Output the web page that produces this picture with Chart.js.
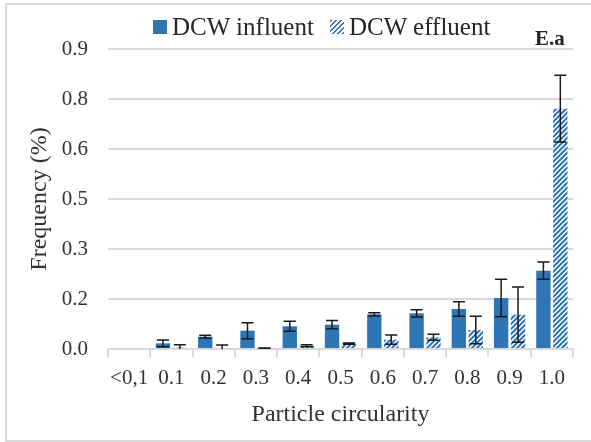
<!DOCTYPE html>
<html>
<head>
<meta charset="utf-8">
<title>Particle circularity - DCW</title>
<script src="https://cdn.jsdelivr.net/npm/chart.js@4/dist/chart.umd.min.js"></script>
<style>
    body { margin: 0; background: #fff; }
    #wrap { position: relative; width: 591px; height: 442px; overflow: hidden; background: #fff; }
    #frame { position: absolute; left: 5px; top: 3px; width: 620px; height: 439px; box-sizing: border-box; border: 2px solid #d9d9d9; }
    #chart { position: absolute; left: 0; top: 0; }
    .legend-box { position: absolute; top: 20px; width: 14px; height: 14px; }
    .legend-text { position: absolute; top: 14px; font: 25px/25px 'Liberation Serif', 'Times New Roman', serif; color: #262626; white-space: nowrap; }
    #tag { position: absolute; left: 535px; top: 28px; font: bold 21px/21px 'Liberation Serif', 'Times New Roman', serif; color: #262626; }
</style>
</head>
<body>
<div id="wrap">
    <div id="frame"></div>
    <canvas id="chart" width="591" height="442"></canvas>
    <div class="legend-box" style="left:153px;background:#2e75b6"></div>
    <div class="legend-text" style="left:172px">DCW influent</div>
    <div class="legend-box" style="left:330px;background:repeating-linear-gradient(135deg,#2e75b6 0 1.6px,#fff 1.6px 3.6px)"></div>
    <div class="legend-text" style="left:349px">DCW effluent</div>
    <div id="tag">E.a</div>
</div>
<script>
// Circularity classes
const categories = ['<0,1', '0.1', '0.2', '0.3', '0.4', '0.5', '0.6', '0.7', '0.8', '0.9', '1.0'];

// Mean frequency and error per class
const influent = [0, 0.017, 0.037, 0.055, 0.068, 0.073, 0.104, 0.107, 0.120, 0.153, 0.235];
const influentErr = [0, 0.010, 0.004, 0.024, 0.015, 0.0125, 0.005, 0.011, 0.022, 0.056, 0.026];
const effluent = [0, 0.004, 0.003, 0.002, 0.010, 0.016, 0.028, 0.035, 0.057, 0.103, 0.721];
const effluentErr = [0, 0.009, 0.009, 0.001, 0.003, 0.002, 0.014, 0.009, 0.041, 0.083, 0.100];

// Y axis ticks (labels rounded to one decimal)
const yTickValues = [0, 0.15, 0.30, 0.45, 0.60, 0.75, 0.90];
const yTickLabels = ['0.0', '0.2', '0.3', '0.5', '0.6', '0.8', '0.9'];

const BLUE = '#2e75b6';
const GRID = '#d9d9d9';
const FONT = "'Liberation Serif', 'Times New Roman', serif";

// Diagonal hatch for the effluent bars
function makeHatch() {
    const c = document.createElement('canvas');
    c.width = 5;
    c.height = 5;
    const g = c.getContext('2d');
    g.fillStyle = '#fff';
    g.fillRect(0, 0, 5, 5);
    g.strokeStyle = BLUE;
    g.lineWidth = 2;
    g.beginPath();
    g.moveTo(-1, 6); g.lineTo(6, -1);
    g.moveTo(-1, 1); g.lineTo(1, -1);
    g.moveTo(4, 6); g.lineTo(6, 4);
    g.stroke();
    return g.createPattern(c, 'repeat');
}

// Draw +/- error bars on top of each bar
const errorBars = {
    id: 'errorBars',
    afterDatasetsDraw(chart) {
        const ctx = chart.ctx;
        const yScale = chart.scales.y;
        const area = chart.chartArea;
        ctx.save();
        ctx.beginPath();
        ctx.rect(area.left, area.top - 40, area.right - area.left, area.bottom - area.top + 40);
        ctx.clip();
        ctx.strokeStyle = '#1a1a1a';
        ctx.lineWidth = 1.5;
        chart.data.datasets.forEach(function(ds, i) {
            const meta = chart.getDatasetMeta(i);
            meta.data.forEach(function(bar, j) {
                const err = ds.errors[j];
                if (!err) return;
                const top = yScale.getPixelForValue(ds.data[j] + err);
                const bot = yScale.getPixelForValue(ds.data[j] - err);
                const half = bar.width * 0.42;
                ctx.beginPath();
                ctx.moveTo(bar.x, top); ctx.lineTo(bar.x, bot);
                ctx.moveTo(bar.x - half, top); ctx.lineTo(bar.x + half, top);
                ctx.moveTo(bar.x - half, bot); ctx.lineTo(bar.x + half, bot);
                ctx.stroke();
            });
        });
        ctx.restore();
    }
};

const ctx = document.getElementById('chart').getContext('2d');
new Chart(ctx, {
    type: 'bar',
    data: {
        labels: categories,
        datasets: [{
            label: 'DCW influent',
            data: influent,
            errors: influentErr,
            backgroundColor: BLUE,
            borderWidth: 0
        }, {
            label: 'DCW effluent',
            data: effluent,
            errors: effluentErr,
            backgroundColor: makeHatch(),
            borderWidth: 0
        }]
    },
    options: {
        responsive: false,
        animation: false,
        categoryPercentage: 0.8,
        barPercentage: 0.85,
        layout: { padding: { left: 0, top: 49, right: 18, bottom: 0 } },
        plugins: {
            legend: { display: false },
            tooltip: { enabled: false }
        },
        scales: {
            x: {
                afterFit: function(scale) { scale.height = 93; },
                grid: {
                    drawOnChartArea: false,
                    drawTicks: true,
                    tickLength: 8,
                    color: GRID,
                    lineWidth: 2
                },
                border: { color: GRID, width: 2 },
                ticks: {
                    padding: 9,
                    color: '#333',
                    maxRotation: 0,
                    autoSkip: false,
                    font: { family: FONT, size: 21 }
                },
                title: {
                    display: true,
                    text: 'Particle circularity',
                    color: '#333',
                    padding: { top: 0, bottom: 13 },
                    font: { family: FONT, size: 24 }
                }
            },
            y: {
                min: 0,
                max: 0.9,
                afterFit: function(scale) { scale.width = 108; },
                afterBuildTicks: function(scale) {
                    scale.ticks = yTickValues.map(function(v) { return { value: v }; });
                },
                grid: { color: GRID, lineWidth: 2, drawTicks: false },
                border: { display: false },
                ticks: {
                    padding: 20,
                    color: '#333',
                    font: { family: FONT, size: 21 },
                    callback: function(value, index) { return yTickLabels[index]; }
                },
                title: {
                    display: true,
                    text: 'Frequency (%)',
                    color: '#333',
                    padding: { top: 25, bottom: 0 },
                    font: { family: FONT, size: 24 }
                }
            }
        }
    },
    plugins: [errorBars]
});
</script>
</body>
</html>
